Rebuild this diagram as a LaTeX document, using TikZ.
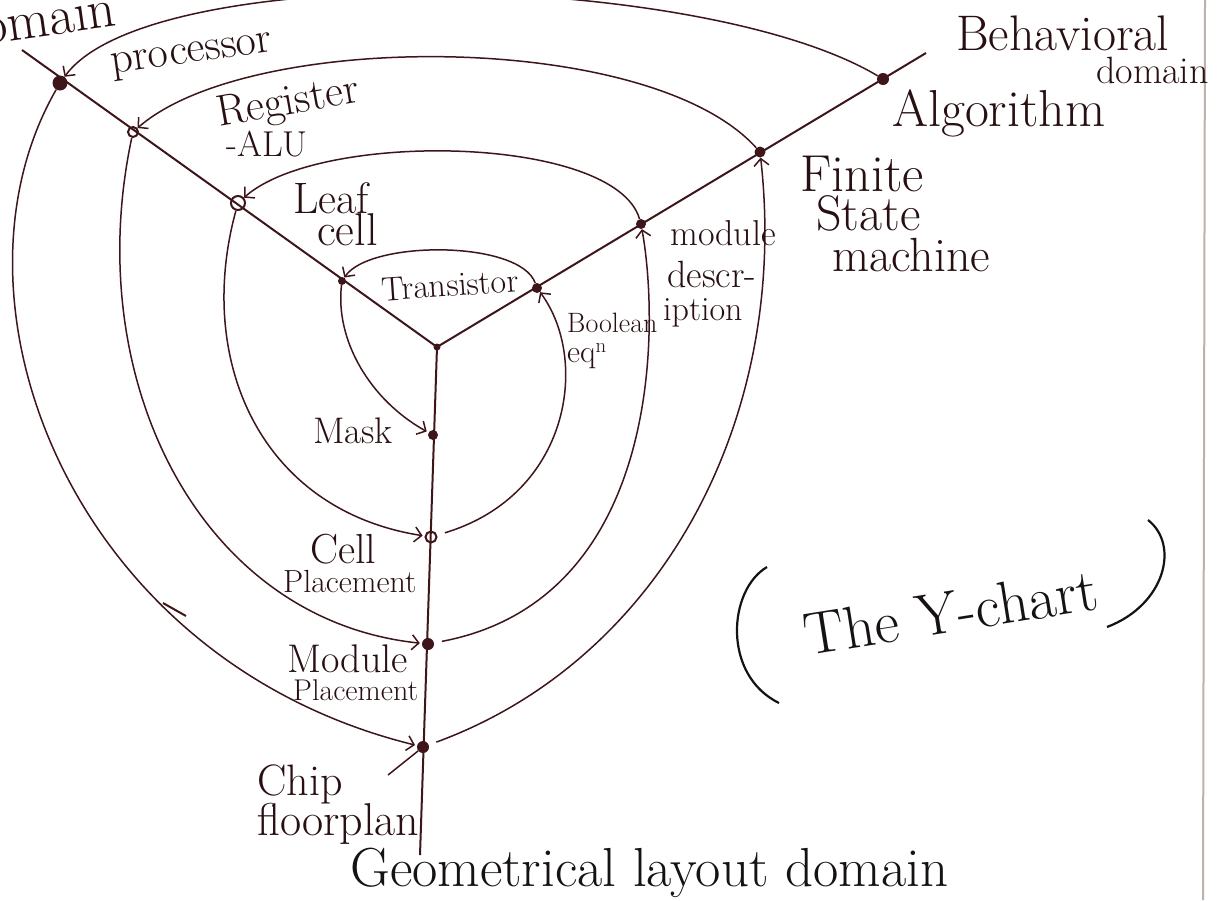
\documentclass[tikz,border=0pt]{standalone}
\usetikzlibrary{arrows.meta}
\definecolor{inkc}{RGB}{62,22,26}
\definecolor{txtc}{RGB}{40,16,18}
\definecolor{blk}{RGB}{22,18,18}
\definecolor{edgec}{RGB}{190,176,170}
\newcommand{\setfsz}[1]{\fontsize{#1}{#1}\selectfont}
\tikzset{
  axis/.style={draw=inkc, line width=2pt},
  ink/.style={draw=inkc, line width=1.5pt},
  arc/.style={ink, -{Straight Barb[length=7pt,width=15pt]}},
  lbl/.style={text=txtc, inner sep=0pt},
  dotf/.style={circle, fill=inkc, inner sep=0pt, minimum size=#1},
  doto/.style={circle, draw=inkc, line width=2pt, inner sep=0pt, minimum size=#1},
}
\begin{document}
\begin{tikzpicture}[x=1pt,y=-1pt]
\useasboundingbox (0,0) rectangle (1228,900);
\fill[white] (0,0) rectangle (1228,900);
\clip (0,0) rectangle (1228,900);
% page edge
\coordinate (e1) at (1205,0);
\coordinate (e2) at (1203,900);
\draw[edgec, line width=2pt] (e1) -- (e2);
% axes
\coordinate (ctr) at (437,347);
\coordinate (sEnd) at (22,50);
\coordinate (bEnd) at (926,53);
\coordinate (gEnd) at (420,855);
\draw[axis] (sEnd) -- (ctr) -- (bEnd);
\draw[axis] (ctr) -- (gEnd);
% dots
\node[dotf=15pt] (proc) at (60,83) {};
\node[doto=10pt] (reg) at (133,132) {};
\node[doto=14pt] (leaf) at (238,203) {};
\node[dotf=8pt] (trans) at (342,281) {};
\node[dotf=7pt] (ctrdot) at (437,347) {};
\node[dotf=10pt] (bool) at (537,288) {};
\node[dotf=10pt] (modd) at (641,224) {};
\node[dotf=11pt] (fsm) at (760,152) {};
\node[dotf=12pt] (alg) at (883,79) {};
\node[dotf=10pt] (mask) at (433,435) {};
\node[doto=11pt] (cellp) at (431,537) {};
\node[dotf=12pt] (modp) at (428,644) {};
\node[dotf=12pt] (chip) at (423,747) {};
% behavioural -> structural arcs
\draw[arc] (alg) .. controls (700,-30) and (150,-40) .. (proc);
\draw[arc] (fsm) .. controls (650,30) and (250,30) .. (reg);
\draw[arc] (modd) .. controls (615,135) and (320,130) .. (leaf);
\draw[arc] (bool) .. controls (520,240) and (370,240) .. (trans);
% structural -> geometrical arcs
\draw[arc, shorten >=2pt] (proc) .. controls (-65,300) and (70,660) .. (chip);
\draw[arc, shorten >=2pt] (reg) .. controls (80,380) and (200,620) .. (modp);
\draw[arc, shorten >=2pt] (leaf) .. controls (195,360) and (260,510) .. (cellp);
\draw[arc, shorten >=2pt] (trans) .. controls (335,340) and (370,400) .. (mask);
% geometrical -> behavioural arcs
\draw[arc, shorten <=8pt] (cellp) .. controls (570,495) and (590,360) .. (bool);
\draw[arc, shorten <=8pt] (modp) .. controls (660,600) and (660,330) .. (modd);
\draw[arc, shorten <=8pt] (chip) .. controls (660,660) and (790,420) .. (fsm);
% small mark on outer arc
\coordinate (tk1) at (163,603);
\coordinate (tk2) at (186,616);
\draw[ink, line width=2pt] (tk1) -- (tk2);
% labels
\node[lbl, anchor=base east, rotate=8] (tlDom) at (118,26) {\setfsz{55}domain};
\node[lbl, rotate=8] (lproc) at (192,57) {\setfsz{44}processor};
\node[lbl, rotate=10] (lreg) at (288,104) {\setfsz{44}Register};
\node[lbl] (lalu) at (267,144) {\setfsz{36}-ALU};
\node[lbl, anchor=base west] (lleaf) at (293,213) {\setfsz{44}Leaf};
\node[lbl, anchor=base west] (lcell) at (317,245) {\setfsz{46}cell};
\node[lbl, rotate=4] (ltrans) at (450,285) {\setfsz{34}Transistor};
\node[lbl, anchor=base west] (lbool) at (567,332) {\setfsz{28}Boolean};
\node[lbl, anchor=base west] (leqn) at (567,362) {\setfsz{32}eq$^{\mathrm{n}}$};
\node[lbl, anchor=base west] (lmod) at (670,245) {\setfsz{36}module};
\node[lbl, anchor=base west] (ldesc) at (667,287) {\setfsz{38}descr-};
\node[lbl, anchor=base west] (lipt) at (663,320) {\setfsz{34}iption};
\node[lbl, anchor=base west] (lfin) at (800,191) {\setfsz{52}Finite};
\node[lbl, anchor=base west] (lstate) at (816,230) {\setfsz{50}State};
\node[lbl, anchor=base west] (lmach) at (832,271) {\setfsz{48}machine};
\node[lbl, anchor=base west] (lalg) at (892,126) {\setfsz{52}Algorithm};
\node[lbl, anchor=base west] (lbeh) at (956,50) {\setfsz{50}Behavioral};
\node[lbl, anchor=base west] (lbdom) at (1096,83) {\setfsz{38}domain};
\node[lbl, anchor=base west] (lmask) at (313,443) {\setfsz{37}Mask};
\node[lbl, anchor=base west] (lcellp) at (310,563) {\setfsz{42}Cell};
\node[lbl, anchor=base west] (lplac1) at (283,592) {\setfsz{32}Placement};
\node[lbl, anchor=base west] (lmodp) at (287,672) {\setfsz{40}Module};
\node[lbl, anchor=base west] (lplac2) at (293,700) {\setfsz{30}Placement};
\node[lbl, anchor=base west] (lchip) at (257,795) {\setfsz{44}Chip};
\node[lbl, anchor=base west] (lfloor) at (257,835) {\setfsz{46}floorplan};
\coordinate (chipPt) at (388,775);
\draw[ink] (chipPt) -- (chip);
\node[lbl, anchor=base west, text=blk] (lgeo) at (350,886) {\setfsz{55}Geometrical layout domain};
\node[lbl, rotate=9, text=blk] (ychart) at (951,612) {\setfsz{60}The Y-chart};
\coordinate (pl1) at (767,567);
\coordinate (pl2) at (779,703);
\coordinate (pr1) at (1148,520);
\coordinate (pr2) at (1107,627);
\draw[blk, line width=2.2pt] (pl1) .. controls (728,590) and (722,675) .. (pl2);
\draw[blk, line width=2.2pt] (pr1) .. controls (1180,545) and (1165,605) .. (pr2);
\end{tikzpicture}
\end{document}
